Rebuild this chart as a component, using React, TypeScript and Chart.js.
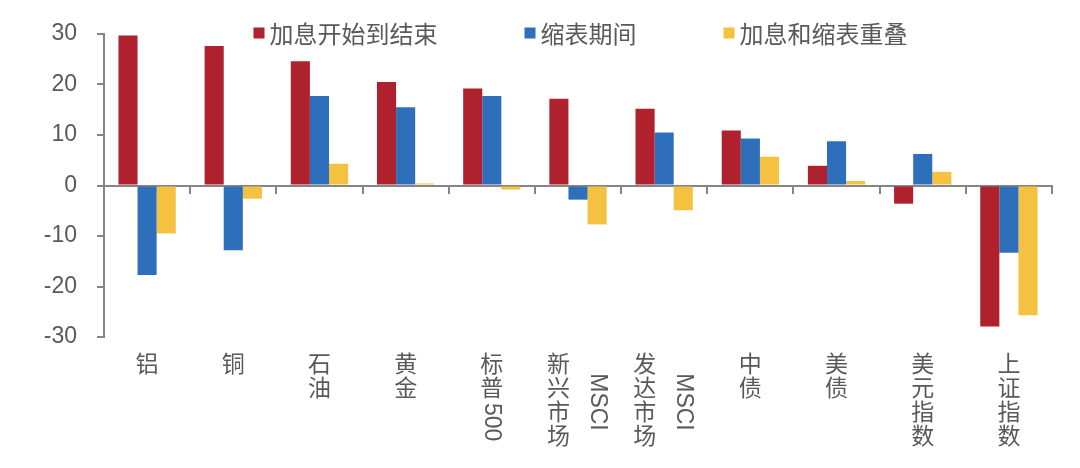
import React, { useEffect, useRef } from 'react';
import { Chart, registerables } from 'chart.js';

Chart.register(...registerables);

// Category labels: each entry is a list of vertical text columns
const categories: string[][] = [
  ['铝'],
  ['铜'],
  ['石油'],
  ['黄金'],
  ['标普500'],
  ['新兴市场', 'MSCI'],
  ['发达市场', 'MSCI'],
  ['中债'],
  ['美债'],
  ['美元指数'],
  ['上证指数'],
];

const seriesNames = ['加息开始到结束', '缩表期间', '加息和缩表重叠'];

const hikeValues = [29.7, 27.6, 24.6, 20.5, 19.2, 17.2, 15.2, 10.9, 3.9, -3.6, -27.9];
const qtValues = [-17.7, -12.8, 17.7, 15.5, 17.7, -2.8, 10.5, 9.3, 8.75, 6.25, -13.3];
const overlapValues = [-9.5, -2.6, 4.3, 0.4, -0.8, -7.7, -4.9, 5.7, 0.9, 2.7, -25.7];

const yTickValues = [-30, -20, -10, 0, 10, 20, 30];

const seriesColors = ['#B0212E', '#2E6FBB', '#F4C141'];

const TEXT_COLOR = '#595959';
const AXIS_COLOR = '#858585';
const FONT_FAMILY = '"Liberation Sans", "Noto Sans CJK SC", sans-serif';

function splitRuns(s: string): string[] {
  return s.match(/[A-Za-z0-9]+|[^A-Za-z0-9]/g) || [];
}

const LINE_H = 24;

function columnHeight(ctx: CanvasRenderingContext2D, col: string): number {
  let h = 0;
  for (const r of splitRuns(col)) {
    if (/^[A-Za-z0-9]+$/.test(r)) h += ctx.measureText(r).width + 2;
    else h += LINE_H;
  }
  return h;
}

const verticalLabelsPlugin = {
  id: 'verticalLabels',
  afterDraw(chart: any) {
    const ctx: CanvasRenderingContext2D = chart.ctx;
    const xs = chart.scales.x;
    const top = 354;
    const colGap = 39;
    ctx.save();
    ctx.fillStyle = TEXT_COLOR;
    ctx.font = `23px ${FONT_FAMILY}`;
    categories.forEach((cols, i) => {
      const cx = xs.getPixelForValue(i);
      const heights = cols.map((c) => columnHeight(ctx, c));
      const maxH = Math.max(...heights);
      cols.forEach((col, j) => {
        const x = cx + (j - (cols.length - 1) / 2) * colGap;
        let y = top + (maxH - heights[j]) / 2;
        for (const r of splitRuns(col)) {
          if (/^[A-Za-z0-9]+$/.test(r)) {
            const w = ctx.measureText(r).width;
            ctx.save();
            ctx.translate(x, y + 1);
            ctx.rotate(Math.PI / 2);
            ctx.textAlign = 'left';
            ctx.textBaseline = 'middle';
            ctx.fillText(r, 0, 0);
            ctx.restore();
            y += w + 2;
          } else {
            ctx.textAlign = 'center';
            ctx.textBaseline = 'middle';
            ctx.fillText(r, x, y + LINE_H / 2);
            y += LINE_H;
          }
        }
      });
    });
    ctx.restore();
  },
};

const legendPlugin = {
  id: 'customLegend',
  afterDraw(chart: any) {
    const ctx: CanvasRenderingContext2D = chart.ctx;
    const area = chart.chartArea;
    const box = 11;
    const gap = 5;
    const spacing = 87;
    ctx.save();
    ctx.font = `24px ${FONT_FAMILY}`;
    const widths = seriesNames.map((n) => box + gap + ctx.measureText(n).width);
    const total = widths.reduce((a, b) => a + b, 0) + spacing * (widths.length - 1);
    let x = (area.left + area.right) / 2 + 2.5 - total / 2;
    const yc = 35;
    chart.data.datasets.forEach((ds: any, i: number) => {
      ctx.fillStyle = ds.backgroundColor;
      ctx.fillRect(x, yc - 2 - box / 2, box, box);
      ctx.fillStyle = TEXT_COLOR;
      ctx.textAlign = 'left';
      ctx.textBaseline = 'middle';
      ctx.fillText(ds.label, x + box + gap, yc + 1);
      x += widths[i] + spacing;
    });
    ctx.restore();
  },
};

export default function App() {
  const canvasRef = useRef<HTMLCanvasElement | null>(null);

  useEffect(() => {
    if (!canvasRef.current) return;
    const seriesValues = [hikeValues, qtValues, overlapValues];
    const chart = new Chart(canvasRef.current, {
      type: 'bar',
      data: {
        labels: categories.map((c) => c.join('')),
        datasets: seriesNames.map((name, i) => ({
          label: name,
          data: seriesValues[i],
          backgroundColor: seriesColors[i],
          borderWidth: 0,
          categoryPercentage: 0.665,
          barPercentage: 1,
        })),
      },
      options: {
        animation: false,
        responsive: true,
        maintainAspectRatio: false,
        layout: { padding: { left: 24, right: 28, top: 34, bottom: 131 } },
        plugins: {
          legend: { display: false },
          tooltip: { enabled: false },
        },
        scales: {
          x: {
            type: 'category',
            position: { y: 0 } as any,
            ticks: { display: false },
            grid: {
              display: true,
              offset: true,
              drawOnChartArea: false,
              drawTicks: true,
              tickLength: 7,
              color: AXIS_COLOR,
              lineWidth: 2,
            },
            border: { display: true, color: AXIS_COLOR, width: 2 },
          },
          y: {
            min: -30,
            max: 30,
            afterFit: (s: any) => {
              s.width = 80;
            },
            afterBuildTicks: (s: any) => {
              s.ticks = yTickValues.map((v) => ({ value: v }));
            },
            ticks: {
              color: TEXT_COLOR,
              font: { size: 23, family: FONT_FAMILY },
              padding: 20,
            },
            grid: {
              display: true,
              drawOnChartArea: false,
              drawTicks: true,
              tickLength: 7,
              color: AXIS_COLOR,
              lineWidth: 2,
            },
            border: { display: true, color: AXIS_COLOR, width: 2 },
          },
        },
      },
      plugins: [legendPlugin, verticalLabelsPlugin],
    });
    return () => chart.destroy();
  }, []);

  return (
    <div style={{ position: 'fixed', left: 0, top: 0, width: 1080, height: 468, background: '#fff' }}>
      <canvas ref={canvasRef} />
    </div>
  );
}
